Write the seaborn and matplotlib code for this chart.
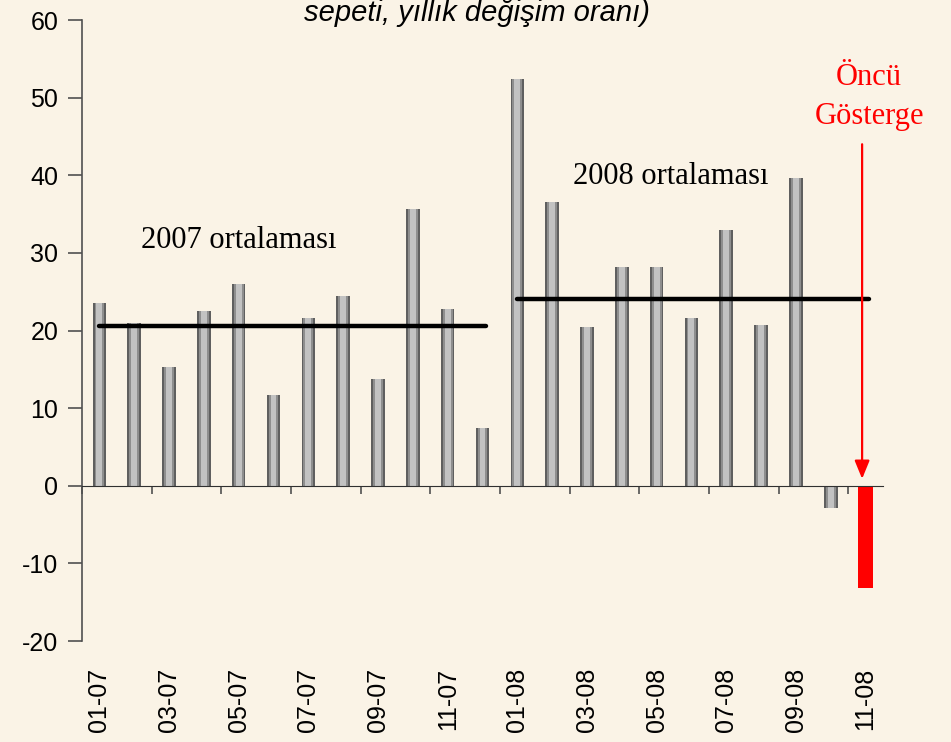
import numpy as np
import pandas as pd
import matplotlib
matplotlib.use('Agg')
import matplotlib.pyplot as plt
import seaborn as sns

# monthly values (yillik degisim orani, %)
months = ['01-07', '02-07', '03-07', '04-07', '05-07', '06-07', '07-07',
          '08-07', '09-07', '10-07', '11-07', '12-07', '01-08', '02-08',
          '03-08', '04-08', '05-08', '06-08', '07-08', '08-08', '09-08',
          '10-08', '11-08']
values = [23.5, 21.0, 15.3, 22.5, 26.0, 11.7, 21.6, 24.4, 13.8, 35.7, 22.8,
          7.5, 52.4, 36.6, 20.4, 28.2, 28.2, 21.6, 33.0, 20.7, 39.6, -2.9,
          -13.1]
shown_labels = months[::2]
avg_2007 = 20.6
avg_2008 = 24.1

sns.set_style('ticks')
plt.rcParams['font.family'] = ['Liberation Sans', 'DejaVu Sans']
plt.rcParams['axes.unicode_minus'] = False
plt.rcParams['text.color'] = 'black'

bg = '#FAF3E6'
fig = plt.figure(figsize=(9.51, 7.42), dpi=100, facecolor=bg)
ax = fig.add_axes([0.0862, 0.136, 0.8423, 0.837])
ax.set_facecolor(bg)

df = pd.DataFrame({'ay': months, 'deger': values})

# cylinder look: dark outer bar, mid gray, light core
# (first layer only widens the red bar a bit)
layers = [(0.44, bg), (0.39, '#5f5f5f'), (0.28, '#8e8e8e'), (0.17, '#c2c2c2')]
for w, c in layers:
    pal = {m: c for m in months}
    pal[months[-1]] = '#ff0000'
    sns.barplot(data=df, x='ay', y='deger', hue='ay', palette=pal,
                order=months, width=w, legend=False, ax=ax,
                saturation=1, linewidth=0)

# yearly averages
ax.plot([0, 11.1], [avg_2007, avg_2007], color='black', lw=3.2,
        solid_capstyle='round')
ax.plot([12, 22.1], [avg_2008, avg_2008], color='black', lw=3.2,
        solid_capstyle='round')

ax.set_xlim(-0.5, 22.5)
ax.set_ylim(-20, 60)
ax.set_yticks(range(-20, 61, 10))
ax.tick_params(axis='y', labelsize=18, length=10, width=1.2,
               color='#505050', labelcolor='black', pad=7)
ax.set_xticks(np.arange(-0.5, 22, 2))
ax.set_xticklabels([])
ax.tick_params(axis='x', length=6, width=1.2, color='#505050')
ax.set_xlabel('')
ax.set_ylabel('')

ax.spines['top'].set_visible(False)
ax.spines['right'].set_visible(False)
ax.spines['bottom'].set_position(('data', 0))
ax.spines['bottom'].set_color('#303030')
ax.spines['left'].set_color('#505050')
ax.spines['left'].set_linewidth(1.2)

for i, lab in enumerate(months):
    if lab in shown_labels:
        ax.text(i, -0.043, lab, transform=ax.get_xaxis_transform(),
                rotation=90, ha='center', va='top', fontsize=18)

serif = ['Liberation Serif', 'DejaVu Serif']
ax.text(1.2, 31.6, '2007 ortalaması', family=serif, fontsize=22,
        va='center', ha='left')
ax.text(13.6, 39.8, '2008 ortalaması', family=serif, fontsize=22,
        va='center', ha='left')
ax.text(22.1, 52.6, 'Öncü', family=serif, fontsize=22, color='red',
        va='center', ha='center')
ax.text(22.1, 47.6, 'Gösterge', family=serif, fontsize=22, color='red',
        va='center', ha='center')

ax.annotate('', xy=(21.9, 0.9), xytext=(21.9, 44),
            arrowprops=dict(arrowstyle='-|>,head_width=0.45,head_length=1.1',
                            color='red', lw=1.6, shrinkA=0, shrinkB=0))

fig.text(0.502, 0.972, 'sepeti, yıllık değişim oranı)',
         family=['Liberation Sans Narrow', 'Liberation Sans', 'DejaVu Sans'],
         style='italic', fontsize=21, ha='center', va='baseline')

fig.savefig('out.png', dpi=100, facecolor=bg)
